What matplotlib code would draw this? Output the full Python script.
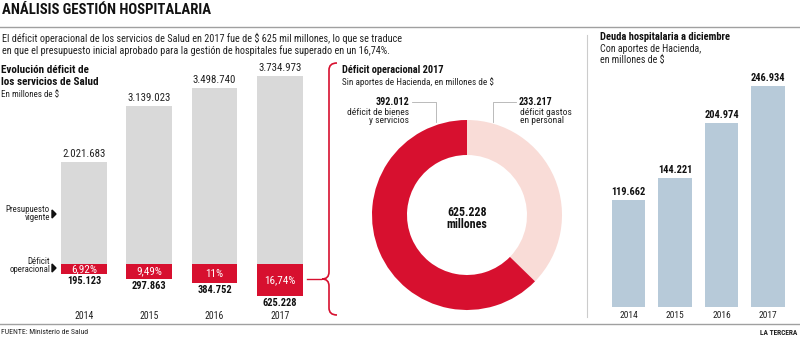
import matplotlib.pyplot as plt
from matplotlib import font_manager as fm
from matplotlib.patches import Polygon
from matplotlib.path import Path
from matplotlib.patches import PathPatch

# pick a narrow sans if there is one
names = {f.name for f in fm.fontManager.ttflist}
FONT = 'Lato'
for cand in ['Roboto Condensed', 'Liberation Sans Narrow', 'Open Sans Condensed', 'Lato']:
    if cand in names:
        FONT = cand
        break
plt.rcParams['font.family'] = [FONT, 'DejaVu Sans']

# datos
years = ['2014', '2015', '2016', '2017']
presupuesto = [2021683, 3139023, 3498740, 3734973]
deficit = [195123, 297863, 384752, 625228]
deficit_pct = ['6,92%', '9,49%', '11%', '16,74%']

donut_labels = ['déficit gastos\nen personal', 'déficit de bienes\ny servicios']
donut_values = [233217, 392012]
donut_total = 625228

deuda = [119662, 144221, 204974, 246934]

RED = '#d7102f'
GRAY = '#d9d9d9'
PINK = '#f9dcd7'
BLUE = '#b7cad9'
LINE = '#a0a0a0'
TXT = '#222222'
DARK = '#111111'

W, H = 800, 338


def fmt(v):
    return f'{v:,}'.replace(',', '.')


def box(x0, y0, x1, y1):
    # pixel box (top-left origin) -> figure fraction rect
    return [x0 / W, 1 - y1 / H, (x1 - x0) / W, (y1 - y0) / H]


fig = plt.figure(figsize=(8, 3.38), dpi=100)

# overlay in pixel coordinates for headings, rules and the bracket
ov = fig.add_axes([0, 0, 1, 1], zorder=0)
ov.set_xlim(0, W)
ov.set_ylim(H, 0)
ov.axis('off')

ov.text(2, 10, 'ANÁLISIS GESTIÓN HOSPITALARIA', fontsize=10.6, fontweight='bold',
        va='center', color=DARK)
ov.plot([0, W], [27, 27], color=LINE, lw=1)
ov.text(2, 38, 'El déficit operacional de los servicios de Salud en 2017 fue de $ 625 mil millones, lo que se traduce',
        fontsize=7.4, va='center', color=TXT)
ov.text(2, 51, 'en que el presupuesto inicial aprobado para la gestión de hospitales fue superado en un 16,74%.',
        fontsize=7.4, va='center', color=TXT)
ov.plot([0, W], [324, 324], color=LINE, lw=1)
ov.text(1, 332, 'FUENTE: Ministerio de Salud', fontsize=5.6, va='center', color=TXT)
ov.text(797, 333, 'LA TERCERA', fontsize=5.3, fontweight='bold', va='center', ha='right', color=TXT)

# left block headings
ov.text(1, 70, 'Evolución déficit de', fontsize=8, fontweight='bold', va='center', color=DARK)
ov.text(1, 82, 'los servicios de Salud', fontsize=8, fontweight='bold', va='center', color=DARK)
ov.text(1, 95, 'En millones de $', fontsize=6.5, va='center', color=TXT)
ov.text(50, 209, 'Presupuesto', fontsize=6.4, ha='right', va='center', color=TXT)
ov.text(50, 218, 'vigente', fontsize=6.4, ha='right', va='center', color=TXT)
ov.add_patch(Polygon([[52, 210], [52, 218], [56, 214]], closed=True, color=DARK))
ov.text(50, 261, 'Déficit', fontsize=6.4, ha='right', va='center', color=TXT)
ov.text(50, 270, 'operacional', fontsize=6.4, ha='right', va='center', color=TXT)
ov.add_patch(Polygon([[52, 264], [52, 272], [56, 268]], closed=True, color=DARK))

# red brace from the 2017 bar to the donut
ov.plot([307, 321], [279, 279], color=RED, lw=1)
verts = [(337, 63), (329, 63), (329, 70), (329, 70),
         (329, 272), (329, 279), (322, 279),
         (329, 279), (329, 286), (329, 286),
         (329, 308), (329, 315), (337, 315)]
codes = [Path.MOVETO, Path.CURVE3, Path.CURVE3, Path.LINETO,
         Path.LINETO, Path.CURVE3, Path.CURVE3,
         Path.CURVE3, Path.CURVE3, Path.LINETO,
         Path.LINETO, Path.CURVE3, Path.CURVE3]
ov.add_patch(PathPatch(Path(verts, codes), fill=False, edgecolor=RED, lw=1.2))

# donut headings and leaders
ov.text(342, 70, 'Déficit operacional 2017', fontsize=7.5, fontweight='bold', va='center', color=DARK)
ov.text(342, 82, 'Sin aportes de Hacienda, en millones de $', fontsize=6.6, va='center', color=TXT)
ov.text(409, 102, fmt(donut_values[1]), fontsize=7.2, fontweight='bold', ha='right', va='center', color=DARK)
ov.text(409, 116.5, donut_labels[1], fontsize=6.8, ha='right', va='center', color=TXT, linespacing=0.9)
ov.text(519, 102, fmt(donut_values[0]), fontsize=7.2, fontweight='bold', ha='left', va='center', color=DARK)
ov.text(520, 116.5, donut_labels[0], fontsize=6.8, ha='left', va='center', color=TXT, linespacing=0.9)
ov.plot([412, 436, 436], [102, 102, 122], color='#b0b0b0', lw=0.6)
ov.plot([516, 493, 493], [102, 102, 122], color='#b0b0b0', lw=0.6)

# right block headings and separator
ov.plot([587, 587], [35, 317], color='#cccccc', lw=0.8)
ov.text(600, 37, 'Deuda hospitalaria a diciembre', fontsize=7.6, fontweight='bold', va='center', color=DARK)
ov.text(600, 49, 'Con aportes de Hacienda,', fontsize=7.2, va='center', color=TXT)
ov.text(600, 60, 'en millones de $', fontsize=7.2, va='center', color=TXT)

# --- presupuesto / déficit bars ---
px_per_unit = 50.4e-6          # pixels per millón de $
ax1_top, ax1_bot, zero_y = 60, 310, 264
ax1 = fig.add_axes(box(51.3, ax1_top, 312.6, ax1_bot), zorder=2)
ax1.set_xlim(-0.5, 3.5)
ax1.set_ylim(-(ax1_bot - zero_y) / px_per_unit, (zero_y - ax1_top) / px_per_unit)
ax1.axis('off')
ax1.patch.set_alpha(0)
xs = range(len(years))
ax1.bar(xs, presupuesto, width=0.70, color=GRAY)
ax1.bar(xs, [-d for d in deficit], width=0.70, color=RED)
for i in xs:
    ax1.annotate(fmt(presupuesto[i]), (i, presupuesto[i]), xytext=(0, 3), textcoords='offset pixels',
                 ha='center', va='bottom', fontsize=7.8, color=TXT)
    ax1.annotate(fmt(deficit[i]), (i, -deficit[i]), xytext=(0, -2), textcoords='offset pixels',
                 ha='center', va='top', fontsize=7.5, fontweight='bold', color=DARK)
    ax1.text(i, -deficit[i] / 2, deficit_pct[i], ha='center', va='center', fontsize=8, color='white')
    ax1.text(i, -(316 - zero_y) / px_per_unit, years[i], ha='center', va='center', fontsize=7, color=TXT)

# --- donut ---
ax2 = fig.add_axes(box(367, 115, 567, 315), zorder=2)
ax2.pie(donut_values, colors=[PINK, RED], startangle=90, counterclock=False, radius=0.95,
        wedgeprops=dict(width=0.35, linewidth=0))
ax2.set_xlim(-1, 1)
ax2.set_ylim(-1, 1)
ax2.text(0, 0.03, fmt(donut_total), ha='center', va='center', fontsize=8.6,
         fontweight='bold', color=DARK)
ax2.text(0, -0.10, 'millones', ha='center', va='center', fontsize=8.6,
         fontweight='bold', color=DARK)

# --- deuda hospitalaria ---
px_per_k = 0.000896
ax3_top, ax3_bot = 70, 307
ax3 = fig.add_axes(box(605.25, ax3_top, 791.25, ax3_bot), zorder=2)
ax3.set_xlim(-0.5, 3.5)
ax3.set_ylim(0, (ax3_bot - ax3_top) / px_per_k)
ax3.axis('off')
ax3.patch.set_alpha(0)
ax3.bar(xs, deuda, width=0.71, color=BLUE)
for i in xs:
    ax3.annotate(fmt(deuda[i]), (i, deuda[i]), xytext=(0, 3), textcoords='offset pixels',
                 ha='center', va='bottom', fontsize=7.5, fontweight='bold', color=DARK)
    ax3.annotate(years[i], (i, 0), xytext=(0, -8), textcoords='offset pixels',
                 ha='center', va='center', fontsize=6.8, color=TXT, annotation_clip=False)

fig.savefig('out.png', dpi=100)
